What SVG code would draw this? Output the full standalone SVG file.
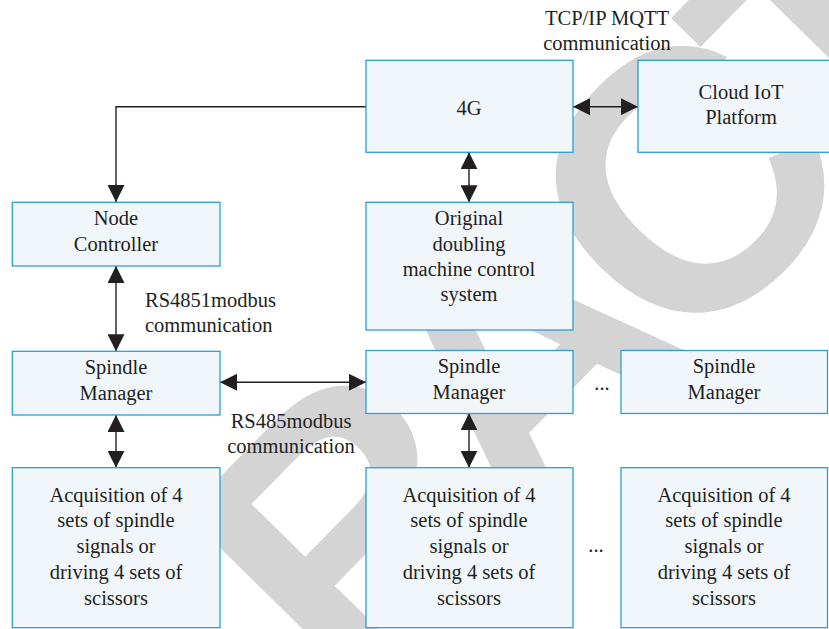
<svg xmlns="http://www.w3.org/2000/svg" width="829" height="629" viewBox="0 0 829 629">
<defs>
<style>
.box{fill:#f1f6fb;stroke:#2a9ed6;stroke-width:1.3}
.t{font-family:"Liberation Serif","Times New Roman",serif;font-size:20.5px;fill:#231f20;text-anchor:middle}
.l{text-anchor:start}
.c{fill:none;stroke:#231f20;stroke-width:1.4}
.wm{font-family:"Liberation Sans",Arial,sans-serif;font-weight:bold;fill:#d4d4d4}
</style>
<marker id="ah" viewBox="0 0 17 17" refX="17" refY="8.5" markerWidth="17" markerHeight="17" markerUnits="userSpaceOnUse" orient="auto-start-reverse">
<path d="M0,0 L17,8.5 L0,17 z" fill="#231f20"/>
</marker>
</defs>
<rect width="829" height="629" fill="#ffffff"/>
<g id="watermark">
<text class="wm" font-size="370" letter-spacing="-29" transform="translate(348,521) rotate(-45.5)" x="-133.6" y="132.5">RACT</text>
</g>
<g id="connectors">
<path class="c" d="M366,106.7 H116 V202" marker-end="url(#ah)"/>
<path class="c" d="M116,266 V351.3" marker-start="url(#ah)" marker-end="url(#ah)"/>
<path class="c" d="M220,382.3 H366" marker-start="url(#ah)" marker-end="url(#ah)"/>
<path class="c" d="M573,106.7 H638" marker-start="url(#ah)" marker-end="url(#ah)"/>
<path class="c" d="M469,152.3 V202.3" marker-start="url(#ah)" marker-end="url(#ah)"/>
<path class="c" d="M116,415 V467.7" marker-start="url(#ah)" marker-end="url(#ah)"/>
<path class="c" d="M469,413.3 V467.7" marker-start="url(#ah)" marker-end="url(#ah)"/>
</g>
<g id="labels">
<text class="t" x="607" y="25">TCP/IP MQTT</text>
<text class="t" x="607" y="50">communication</text>
<text class="t l" x="145" y="306.7">RS4851modbus</text>
<text class="t l" x="145" y="331.7">communication</text>
<text class="t" x="291" y="428">RS485modbus</text>
<text class="t" x="291" y="452.7">communication</text>
<text class="t" x="602" y="390">...</text>
<text class="t" x="596" y="552">...</text>
</g>
<g id="n4g">
<rect class="box" x="366" y="60.3" width="207" height="92"/>
<text class="t" x="469" y="115">4G</text>
</g>
<g id="cloud">
<rect class="box" x="638" y="60.3" width="207" height="92"/>
<text class="t" x="741" y="99.3">Cloud IoT</text>
<text class="t" x="741" y="124">Platform</text>
</g>
<g id="node">
<rect class="box" x="12.3" y="202.3" width="207.7" height="63.7"/>
<text class="t" x="116" y="225">Node</text>
<text class="t" x="116" y="251">Controller</text>
</g>
<g id="original">
<rect class="box" x="366" y="202.3" width="207" height="127.7"/>
<text class="t" x="469" y="225">Original</text>
<text class="t" x="469" y="250.7">doubling</text>
<text class="t" x="469" y="276">machine control</text>
<text class="t" x="469" y="301">system</text>
</g>
<g id="spindle1">
<rect class="box" x="12.3" y="351.3" width="207.7" height="63.7"/>
<text class="t" x="116" y="374">Spindle</text>
<text class="t" x="116" y="399.5">Manager</text>
</g>
<g id="spindle2">
<rect class="box" x="366" y="350.5" width="207" height="63"/>
<text class="t" x="469" y="373">Spindle</text>
<text class="t" x="469" y="398.5">Manager</text>
</g>
<g id="spindle3">
<rect class="box" x="621" y="350.5" width="206.5" height="63"/>
<text class="t" x="724" y="373">Spindle</text>
<text class="t" x="724" y="398.5">Manager</text>
</g>
<g id="acq1">
<rect class="box" x="12.3" y="467.7" width="207.7" height="160"/>
<text class="t" x="116" y="501.7">Acquisition of 4</text>
<text class="t" x="116" y="527.3">sets of spindle</text>
<text class="t" x="116" y="553.3">signals or</text>
<text class="t" x="116" y="579">driving 4 sets of</text>
<text class="t" x="116" y="605">scissors</text>
</g>
<g id="acq2">
<rect class="box" x="366" y="467.7" width="207" height="160"/>
<text class="t" x="469" y="501.7">Acquisition of 4</text>
<text class="t" x="469" y="527.3">sets of spindle</text>
<text class="t" x="469" y="553.3">signals or</text>
<text class="t" x="469" y="579">driving 4 sets of</text>
<text class="t" x="469" y="605">scissors</text>
</g>
<g id="acq3">
<rect class="box" x="621" y="467.7" width="206.5" height="160"/>
<text class="t" x="724" y="501.7">Acquisition of 4</text>
<text class="t" x="724" y="527.3">sets of spindle</text>
<text class="t" x="724" y="553.3">signals or</text>
<text class="t" x="724" y="579">driving 4 sets of</text>
<text class="t" x="724" y="605">scissors</text>
</g>
</svg>
